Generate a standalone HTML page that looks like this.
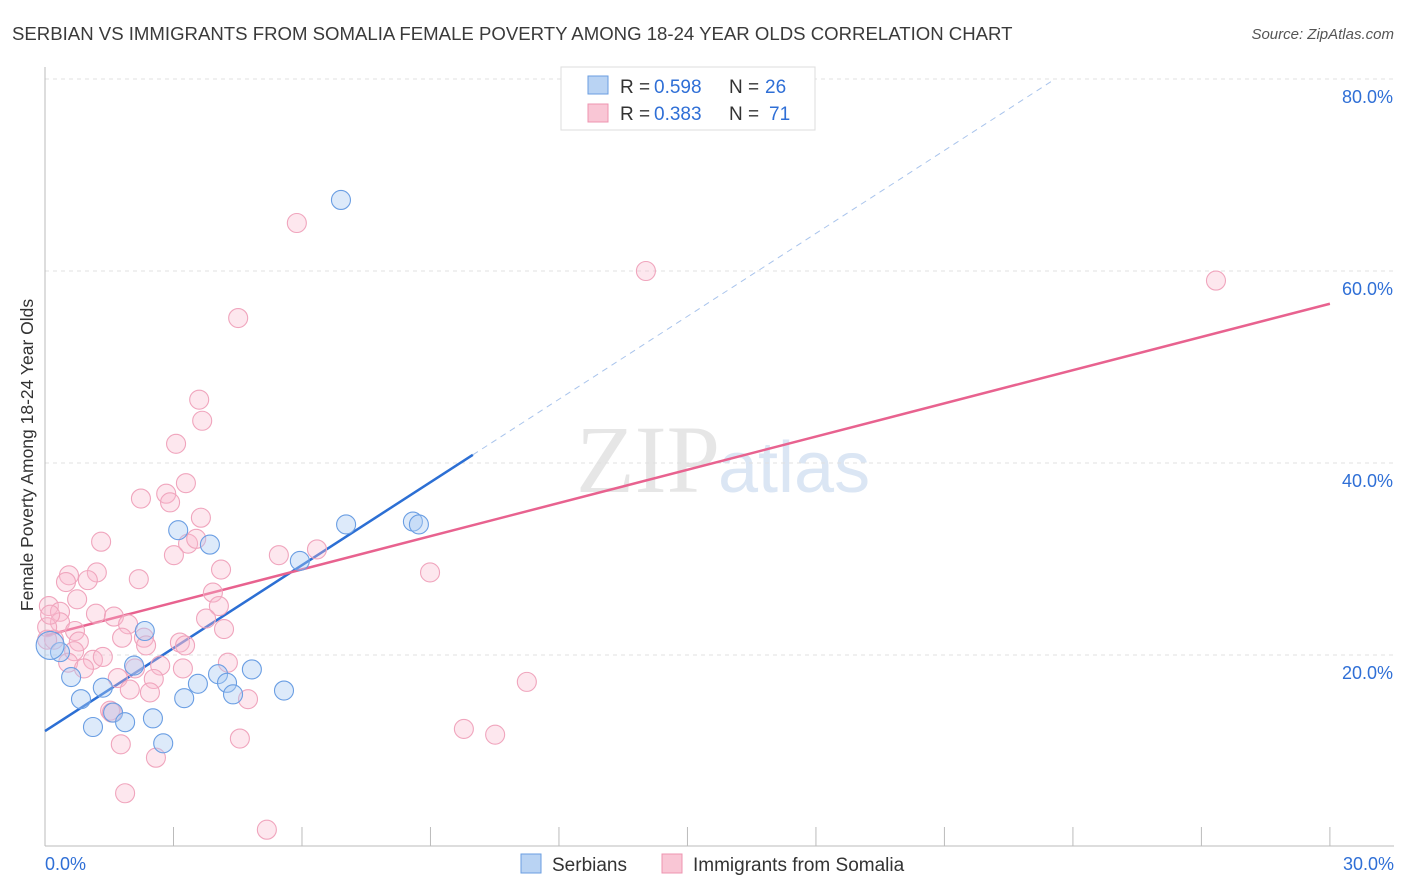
<!DOCTYPE html>
<html><head><meta charset="utf-8"><style>
body{margin:0;background:#fff;font-family:"Liberation Sans",sans-serif;}
svg{display:block}
</style></head><body>
<svg id="c" width="1406" height="892" xmlns="http://www.w3.org/2000/svg">
<text x="12" y="40" font-size="18.6" fill="#3a3a3a">SERBIAN VS IMMIGRANTS FROM SOMALIA FEMALE POVERTY AMONG 18-24 YEAR OLDS CORRELATION CHART</text>
<text x="1394" y="39" font-size="15" fill="#555" font-style="italic" text-anchor="end">Source: ZipAtlas.com</text>
<text x="720" y="492" font-size="96" fill="#e6e6e6" text-anchor="end" font-family="Liberation Serif,serif">ZIP</text>
<text x="718" y="492" font-size="72" fill="#dbe6f4">atlas</text>
<g id="grid"></g><g id="axes"></g><g id="trends"></g><g id="pts"></g>
<text x="33" y="455" font-size="17.5" fill="#333" text-anchor="middle" transform="rotate(-90 33 455)">Female Poverty Among 18-24 Year Olds</text>
<g>
<rect x="561" y="67" width="254" height="63" fill="#fff" stroke="#ddd"/>
<rect x="588" y="76" width="20" height="18" fill="#b9d3f3" stroke="#6a9ee0"/>
<rect x="588" y="104" width="20" height="18" fill="#f9c6d5" stroke="#ee94b0"/>
<text x="620" y="93" font-size="19" fill="#333">R =</text>
<text x="654" y="93" font-size="19" fill="#2f6fd6">0.598</text>
<text x="729" y="93" font-size="19" fill="#333">N =</text>
<text x="765" y="93" font-size="19" fill="#2f6fd6">26</text>
<text x="620" y="120" font-size="19" fill="#333">R =</text>
<text x="654" y="120" font-size="19" fill="#2f6fd6">0.383</text>
<text x="729" y="120" font-size="19" fill="#333">N =</text>
<text x="769" y="120" font-size="19" fill="#2f6fd6">71</text>
</g>
<g>
<rect x="521" y="854" width="20" height="19" fill="#b9d3f3" stroke="#6a9ee0"/>
<text x="552" y="871" font-size="19" fill="#333">Serbians</text>
<rect x="662" y="854" width="20" height="19" fill="#f9c6d5" stroke="#ee94b0"/>
<text x="693" y="871" font-size="19" fill="#333">Immigrants from Somalia</text>
</g>
</svg>
<script>
const xTicks=[0,3,6,9,12,15,18,21,24,27,30];
const yTicks=[20,40,60,80];
const yTickLabels=["20.0%","40.0%","60.0%","80.0%"];
const xEndLabels=["0.0%","30.0%"];
const blueX=[6.91,3.11,3.85,5.95,7.03,8.59,8.73,2.33,0.35,0.12,0.61,1.35,2.08,0.84,1.12,1.59,1.87,2.52,2.76,3.25,3.57,4.04,4.25,4.39,4.83,5.58];
const blueY=[67.4,33.0,31.5,29.8,33.6,33.9,33.6,22.5,20.3,21.0,17.7,16.6,18.9,15.4,12.5,14.0,13.0,13.4,10.8,15.5,17.0,18.0,17.1,15.9,18.5,16.3];
const pinkX=[5.88,14.03,27.34,4.51,3.60,3.67,3.06,3.29,2.24,2.83,2.92,3.64,1.31,3.34,3.53,3.01,5.46,6.35,0.56,0.49,1.21,1.00,2.19,4.11,8.99,0.75,0.09,0.35,3.92,4.06,1.19,1.61,1.94,3.76,0.35,0.70,0.05,1.80,2.31,3.15,4.18,0.79,2.36,0.68,1.12,1.35,3.27,4.27,0.54,0.91,2.10,2.69,3.22,1.70,2.54,1.98,2.45,4.74,1.52,1.56,1.77,4.55,2.59,9.78,10.51,11.25,1.87,5.18,0.21,0.12,0.05];
const pinkY=[65.0,60.0,59.0,55.1,46.6,44.4,42.0,37.9,36.3,36.8,35.9,34.3,31.8,31.6,32.1,30.4,30.4,31.0,28.3,27.6,28.6,27.8,27.9,28.9,28.6,25.8,25.1,24.5,26.5,25.1,24.3,24.0,23.2,23.8,23.4,22.5,22.9,21.8,21.8,21.3,22.7,21.4,21.0,20.4,19.5,19.8,21.0,19.2,19.2,18.6,18.6,18.9,18.6,17.6,17.5,16.4,16.1,15.4,14.2,14.0,10.7,11.3,9.3,12.3,11.7,17.2,5.6,1.8,21.6,24.2,21.6];
const blueTrend=[12.08,2.88];
const pinkTrend=[22.0,1.153];
const NS="http://www.w3.org/2000/svg";
const X=v=>45+v*42.83, Y=v=>847-v*9.6;
function mk(tag,attrs,parent){const e=document.createElementNS(NS,tag);for(const k in attrs)e.setAttribute(k,attrs[k]);document.getElementById(parent).appendChild(e);return e;}
yTicks.forEach((t,i)=>{
 const g=mk('line',{x1:45,x2:1394,y1:Y(t),y2:Y(t),stroke:'#e0e0e0','stroke-dasharray':'4,4'},'grid');
 
 
 const l=mk('text',{x:1393,y:Y(t)+24,'font-size':18,fill:'#2f6fd6','text-anchor':'end'},'grid');
 l.textContent=yTickLabels[i];
 
 
});
const ax=mk('line',{x1:45,x2:1394,y1:846,y2:846,stroke:'#bbb'},'axes');


const ay=mk('line',{x1:45,x2:45,y1:67,y2:846,stroke:'#bbb'},'axes');


xTicks.forEach((t,i)=>{if(i===0)return;
 const tk=mk('line',{x1:X(t),x2:X(t),y1:827,y2:846,stroke:'#bbb'},'axes');
 
 
});
const xl0=mk('text',{x:45,y:870,'font-size':18,fill:'#2f6fd6'},'axes');xl0.textContent=xEndLabels[0];


const xl1=mk('text',{x:1394,y:870,'font-size':18,fill:'#2f6fd6','text-anchor':'end'},'axes');xl1.textContent=xEndLabels[1];


const bEnd=9.99, bMax=(80-blueTrend[0])/blueTrend[1];
const bt=mk('line',{x1:X(0),y1:Y(blueTrend[0]),x2:X(bEnd),y2:Y(blueTrend[0]+blueTrend[1]*bEnd),stroke:'#2c6fd4','stroke-width':2.5},'trends');


const bd=mk('line',{x1:X(bEnd),y1:Y(blueTrend[0]+blueTrend[1]*bEnd),x2:X(bMax),y2:Y(80),stroke:'#a9c4ec','stroke-width':1,'stroke-dasharray':'6,5'},'trends');


const pt=mk('line',{x1:X(0),y1:Y(pinkTrend[0]),x2:X(30),y2:Y(pinkTrend[0]+pinkTrend[1]*30),stroke:'#e8628f','stroke-width':2.5},'trends');


pinkX.forEach((v,i)=>{
 const c=mk('circle',{cx:X(v),cy:Y(pinkY[i]),r:9.5,fill:'rgba(248,185,205,0.35)',stroke:'#f0a5bd','stroke-width':1.1},'pts');
 
 
});
blueX.forEach((v,i)=>{
 const c=mk('circle',{cx:X(v),cy:Y(blueY[i]),r:(i===9?14:9.5),fill:'rgba(170,202,242,0.4)',stroke:'#6a9ee3','stroke-width':1.1},'pts');
 
 
});
</script>
</body></html>
